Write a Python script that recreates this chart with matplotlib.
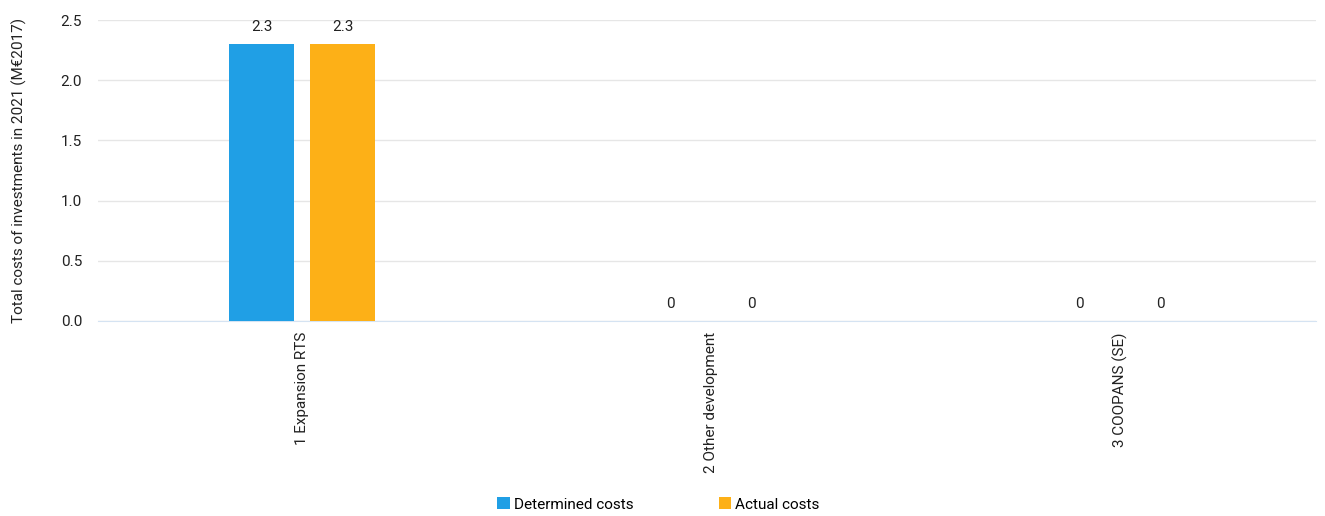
import matplotlib
matplotlib.use("Agg")
import matplotlib.pyplot as plt
import numpy as np

categories = ["1 Expansion RTS", "2 Other development", "3 COOPANS (SE)"]
determined = [2.3, 0, 0]
actual = [2.3, 0, 0]
series_names = ["Determined costs", "Actual costs"]
colors = ["#209FE5", "#FDB017"]

plt.rcParams["font.family"] = ["Roboto", "DejaVu Sans"]

fig = plt.figure(figsize=(13.25, 5.16), dpi=100)
ax = fig.add_axes([97.5 / 1325, 1 - 321 / 516, 1218 / 1325, 301 / 516])

x = np.arange(len(categories))
width = 0.161
for i, (vals, name, c) in enumerate(zip([determined, actual], series_names, colors)):
    pos = x + (i - 0.5) * 0.198
    bars = ax.bar(pos, vals, width, color=c, label=name, zorder=3)
    for b, v in zip(bars, vals):
        lbl = f"{v:.1f}" if v else "0"
        ax.annotate(lbl, (b.get_x() + b.get_width() / 2, v), xytext=(0, 7),
                    textcoords="offset points", ha="center", va="bottom",
                    fontsize=11, color="#222222")

ax.set_xlim(-0.5, 2.478)
ax.set_ylim(0, 2.5)
ax.set_yticks(np.arange(0, 2.51, 0.5))
ax.set_yticklabels([f"{t:.1f}" for t in np.arange(0, 2.51, 0.5)])
ax.set_xticks(x)
ax.set_xticklabels(categories, rotation=90)
ax.tick_params(axis="both", length=0, labelsize=11, colors="#222222")
ax.tick_params(axis="x", pad=8)
ax.tick_params(axis="y", pad=11)
ax.grid(axis="y", color="#E6E6E6", linewidth=1, zorder=0)
for s in ["top", "right", "left"]:
    ax.spines[s].set_visible(False)
ax.spines["bottom"].set_color("#D5E3F2")
ax.set_ylabel("Total costs of investments in 2021 (M€2017)", fontsize=11,
              color="#222222", labelpad=24)

fig.legend(loc="lower center", bbox_to_anchor=(0.497, -0.018), ncol=2, frameon=False,
           fontsize=11, handlelength=0.8, handleheight=0.8, handletextpad=0.3,
           columnspacing=5.55)

fig.savefig("out.png", dpi=100)
